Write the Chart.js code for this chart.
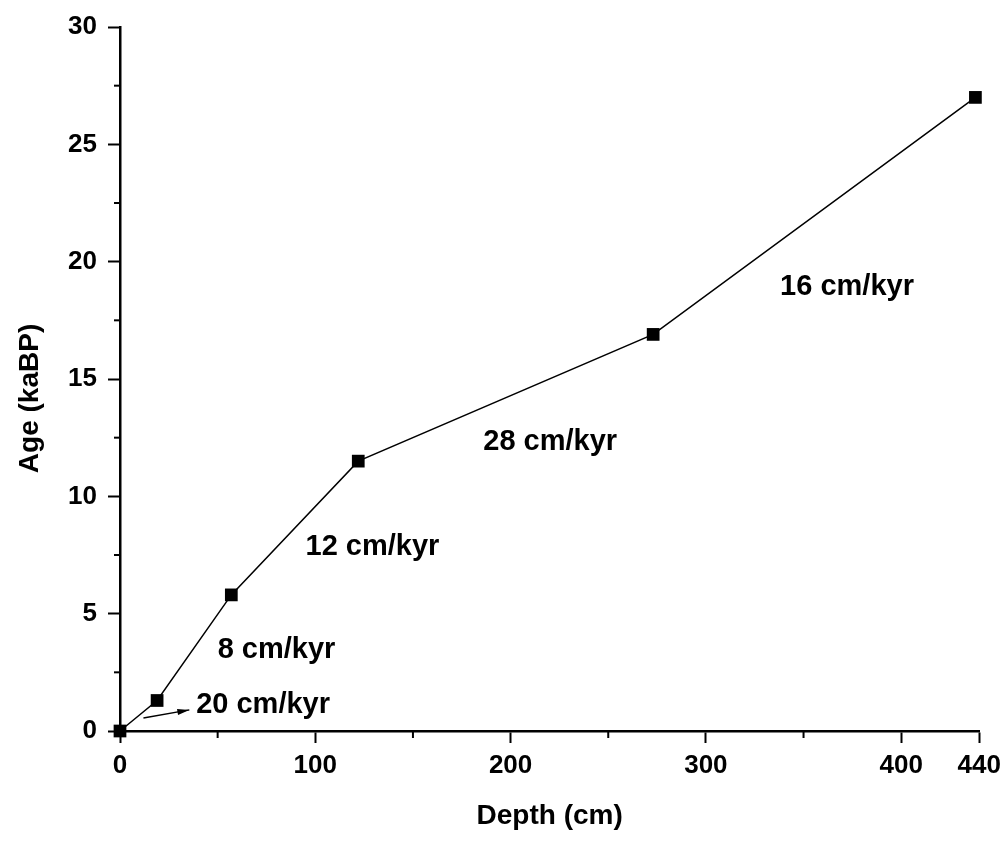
<!DOCTYPE html>
<html>
<head>
<meta charset="utf-8">
<script src="https://cdn.jsdelivr.net/npm/chart.js@4/dist/chart.umd.min.js"></script>
<style>
html, body { margin: 0; background: #fff; }
</style>
</head>
<body>
<canvas id="age-depth" width="1008" height="846"></canvas>
<script>
// age-depth points
var depths = [0, 19, 57, 122, 273, 438];
var ages = [0, 1.3, 5.8, 11.5, 16.9, 27.0];

// axis ticks
var xTicks = [0, 100, 200, 300, 400, 440];
var xMinor = [50, 150, 250, 350];
var yTicks = [0, 5, 10, 15, 20, 25, 30];
var yMinor = [2.5, 7.5, 12.5, 17.5, 22.5, 27.5];

// sedimentation rate labels (left edge, middle)
var rateText = ["20 cm/kyr", "8 cm/kyr", "12 cm/kyr", "28 cm/kyr", "16 cm/kyr"];
var rateDepth = [39, 50, 95, 186, 338];
var rateAge = [1.1, 3.45, 7.85, 12.3, 18.9];

// little arrow next to "20 cm/kyr"
var arrowDepth = [12, 35.5];
var arrowAge = [0.55, 0.9];

var FONT = '"Liberation Sans", Arial, sans-serif';

var extras = {
    id: 'extras',
    beforeDraw: function (chart) {
        var c = chart.ctx;
        c.save();
        c.fillStyle = '#fff';
        c.fillRect(0, 0, chart.width, chart.height);
        c.restore();
    },
    afterDraw: function (chart) {
        var c = chart.ctx;
        var xs = chart.scales.x, ys = chart.scales.y;
        c.save();
        c.strokeStyle = '#000';
        c.lineWidth = 2;
        // minor ticks
        var yb = ys.bottom;
        xMinor.forEach(function (v) {
            var px = xs.getPixelForValue(v);
            c.beginPath(); c.moveTo(px, yb); c.lineTo(px, yb + 7); c.stroke();
        });
        var xl = xs.left;
        yMinor.forEach(function (v) {
            var py = ys.getPixelForValue(v);
            c.beginPath(); c.moveTo(xl, py); c.lineTo(xl - 6, py); c.stroke();
        });

        // arrow
        var x0 = xs.getPixelForValue(arrowDepth[0]), y0 = ys.getPixelForValue(arrowAge[0]);
        var x1 = xs.getPixelForValue(arrowDepth[1]), y1 = ys.getPixelForValue(arrowAge[1]);
        c.lineWidth = 1.5;
        c.beginPath(); c.moveTo(x0, y0); c.lineTo(x1, y1); c.stroke();
        var a = Math.atan2(y1 - y0, x1 - x0);
        c.fillStyle = '#000';
        c.beginPath();
        c.moveTo(x1, y1);
        c.lineTo(x1 - 12 * Math.cos(a) + 3 * Math.sin(a), y1 - 12 * Math.sin(a) - 3 * Math.cos(a));
        c.lineTo(x1 - 12 * Math.cos(a) - 3 * Math.sin(a), y1 - 12 * Math.sin(a) + 3 * Math.cos(a));
        c.closePath();
        c.fill();

        // rate labels
        c.font = 'bold 29px ' + FONT;
        c.textAlign = 'left';
        c.textBaseline = 'middle';
        rateText.forEach(function (t, i) {
            c.fillText(t, xs.getPixelForValue(rateDepth[i]), ys.getPixelForValue(rateAge[i]));
        });
        c.restore();
    }
};

var ctx = document.getElementById('age-depth');
var chart = new Chart(ctx, {
    type: 'scatter',
    data: {
        datasets: [{
            data: depths.map(function (d, i) { return { x: d, y: ages[i] }; }),
            showLine: true,
            borderColor: '#000',
            borderWidth: 1.5,
            backgroundColor: '#000',
            pointStyle: 'rect',
            pointRadius: 9,
            pointBorderWidth: 0,
            clip: false
        }]
    },
    plugins: [extras],
    options: {
        responsive: false,
        animation: false,
        layout: { padding: { top: 27, right: 0, left: 0, bottom: 0 } },
        plugins: { legend: { display: false }, tooltip: { enabled: false } },
        scales: {
            x: {
                type: 'linear',
                min: 0,
                max: 440,
                afterBuildTicks: function (s) { s.ticks = xTicks.map(function (v) { return { value: v }; }); },
                afterFit: function (s) { s.height = 115; },
                border: { display: true, color: '#000', width: 2.5 },
                grid: { drawOnChartArea: false, drawTicks: true, tickLength: 12, tickColor: '#000', tickWidth: 2 },
                ticks: { color: '#000', padding: 7, maxRotation: 0, font: { family: FONT, size: 26, weight: 'bold' } },
                title: { display: true, text: 'Depth (cm)', color: '#000', padding: { top: 0, bottom: 13 }, font: { family: FONT, size: 28, weight: 'bold' } }
            },
            y: {
                type: 'linear',
                min: 0,
                max: 30,
                afterBuildTicks: function (s) { s.ticks = yTicks.map(function (v) { return { value: v }; }); },
                afterFit: function (s) { s.width = 120; },
                border: { display: true, color: '#000', width: 2.5 },
                grid: { drawOnChartArea: false, drawTicks: true, tickLength: 12, tickColor: '#000', tickWidth: 2 },
                ticks: { color: '#000', padding: 11, font: { family: FONT, size: 26, weight: 'bold' } },
                title: { display: true, text: 'Age (kaBP)     ', color: '#000', padding: { top: 13, bottom: 0 }, font: { family: FONT, size: 28, weight: 'bold' } }
            }
        }
    }
});
</script>
</body>
</html>
